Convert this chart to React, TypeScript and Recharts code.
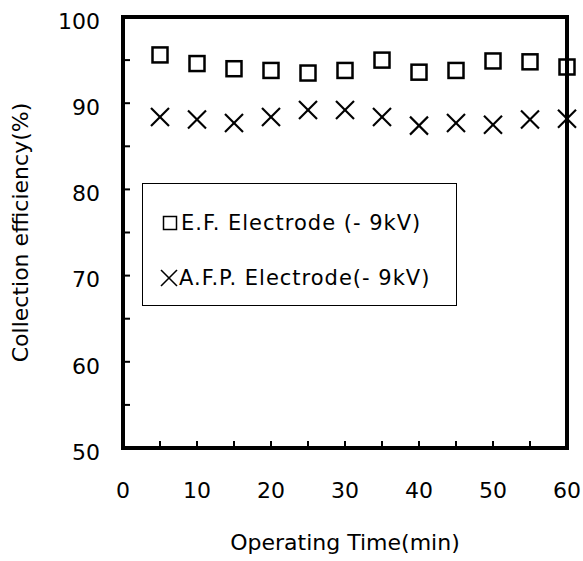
import React from "react";
import { ScatterChart, Scatter, XAxis, YAxis, ReferenceArea, Label } from "recharts";

// operating time (min)
const times = [5, 10, 15, 20, 25, 30, 35, 40, 45, 50, 55, 60];
// collection efficiency (%)
const efElectrode = [95.6, 94.6, 94.0, 93.8, 93.5, 93.8, 95.0, 93.6, 93.8, 94.9, 94.8, 94.2];
const afpElectrode = [88.4, 88.1, 87.7, 88.4, 89.2, 89.2, 88.4, 87.4, 87.7, 87.5, 88.1, 88.2];

const seriesNames = ["E.F. Electrode (- 9kV)", "A.F.P. Electrode(- 9kV)"];
const xTicks = [0, 5, 10, 15, 20, 25, 30, 35, 40, 45, 50, 55, 60];
const yTicks = [50, 55, 60, 65, 70, 75, 80, 85, 90, 95, 100];

const efData = times.map((t, i) => ({ x: t, y: efElectrode[i] }));
const afpData = times.map((t, i) => ({ x: t, y: afpElectrode[i] }));

const FONT = "'DejaVu Sans', Verdana, sans-serif";

const Square = (props: any) => {
  const { cx, cy } = props;
  if (cx == null || cy == null) return null;
  return <rect x={cx - 7.5} y={cy - 7.5} width={15} height={15} fill="none" stroke="#000" strokeWidth={2.5} />;
};

const Cross = (props: any) => {
  const { cx, cy } = props;
  if (cx == null || cy == null) return null;
  const h = 9;
  return (
    <g stroke="#000" strokeWidth={2.2}>
      <line x1={cx - h} y1={cy - h} x2={cx + h} y2={cy + h} />
      <line x1={cx - h} y1={cy + h} x2={cx + h} y2={cy - h} />
    </g>
  );
};

const tenOnly = (v: number) => (v % 10 === 0 ? String(v) : "");

function LegendBox() {
  return (
    <div
      style={{
        position: "absolute",
        left: 142,
        top: 183,
        width: 315,
        height: 123,
        boxSizing: "border-box",
        border: "1.5px solid #000",
        background: "#fff",
        fontFamily: FONT,
        fontSize: 21,
        letterSpacing: 1,
        color: "#000",
      }}
    >
      <div style={{ position: "absolute", left: 19, top: 27, display: "flex", alignItems: "center", whiteSpace: "nowrap" }}>
        <svg width={16} height={16} style={{ marginRight: 3 }}>
          <rect x={1.5} y={1.5} width={13} height={13} fill="none" stroke="#000" strokeWidth={1.5} />
        </svg>
        <span>{seriesNames[0]}</span>
      </div>
      <div style={{ position: "absolute", left: 17, top: 82, display: "flex", alignItems: "center", whiteSpace: "nowrap" }}>
        <svg width={18} height={18} style={{ marginRight: 1 }}>
          <line x1={1} y1={1} x2={17} y2={17} stroke="#000" strokeWidth={1.6} />
          <line x1={1} y1={17} x2={17} y2={1} stroke="#000" strokeWidth={1.6} />
        </svg>
        <span>{seriesNames[1]}</span>
      </div>
    </div>
  );
}

export default function App() {
  return (
    <div style={{ position: "absolute", left: 0, top: 0, width: 583, height: 561, background: "#fff" }}>
      <ScatterChart width={583} height={561} margin={{ top: 17, right: 16, left: 0, bottom: 0 }} style={{ fontFamily: FONT }}>
        <XAxis
          type="number"
          dataKey="x"
          domain={[0, 60]}
          ticks={xTicks}
          tickFormatter={tenOnly}
          height={113}
          axisLine={false}
          tickLine={{ stroke: "#000", strokeWidth: 2 }}
          tickSize={-7}
          tickMargin={41}
          tick={{ fontSize: 22, fill: "#000", fontFamily: FONT }}
          interval={0}
        >
          <Label value="Operating Time(min)" position="insideBottom" offset={11} style={{ fontSize: 22, fill: "#000", fontFamily: FONT }} />
        </XAxis>
        <YAxis
          type="number"
          dataKey="y"
          domain={[50, 100]}
          ticks={yTicks}
          tickFormatter={tenOnly}
          width={123}
          axisLine={false}
          tickLine={{ stroke: "#000", strokeWidth: 2 }}
          tickSize={-7}
          tickMargin={30}
          tick={{ fontSize: 22, fill: "#000", fontFamily: FONT, dy: 4 }}
          interval={0}
        >
          <Label
            value="Collection efficiency(%)"
            angle={-90}
            position="insideLeft"
            offset={20}
            style={{ fontSize: 22, fill: "#000", fontFamily: FONT, textAnchor: "middle" }}
          />
        </YAxis>
        <ReferenceArea x1={0} x2={60} y1={50} y2={100} fill="none" fillOpacity={0} stroke="#000" strokeWidth={4} ifOverflow="visible" />
        <Scatter name={seriesNames[0]} data={efData} shape={Square} isAnimationActive={false} />
        <Scatter name={seriesNames[1]} data={afpData} shape={Cross} isAnimationActive={false} />
      </ScatterChart>
      <LegendBox />
    </div>
  );
}
